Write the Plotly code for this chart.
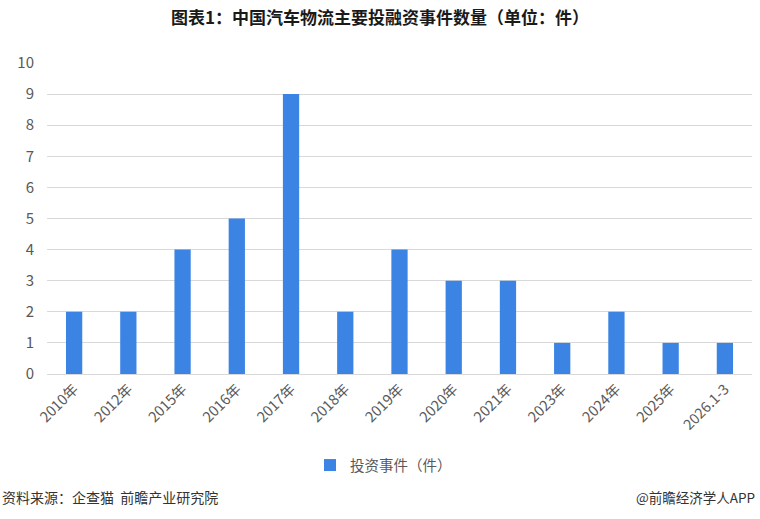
import plotly.graph_objects as go

categories = ["2010年", "2012年", "2015年", "2016年", "2017年", "2018年", "2019年",
              "2020年", "2021年", "2023年", "2024年", "2025年", "2026.1-3"]
values = [2, 2, 4, 5, 9, 2, 4, 3, 3, 1, 2, 1, 1]
series_name = "投资事件（件）"
title_text = "图表1：中国汽车物流主要投融资事件数量（单位：件）"
source_text = "资料来源：企查猫  前瞻产业研究院"
brand_text = "@前瞻经济学人APP"

FONT = "Noto Sans CJK SC, Microsoft YaHei, sans-serif"
GRAY = "#595959"

fig = go.Figure()
fig.add_trace(go.Bar(
    x=categories, y=values, name=series_name,
    marker=dict(color="#3b84e3", line=dict(width=0)),
    showlegend=True,
))

fig.update_layout(
    width=760, height=519,
    margin=dict(l=47, r=8, t=63, b=145),
    paper_bgcolor="white", plot_bgcolor="white",
    bargap=0.7,
    font=dict(family=FONT, color=GRAY, size=14),
    title=dict(text="<b>" + title_text + "</b>", x=0.5, xanchor="center",
               y=0.965, yanchor="middle",
               font=dict(family=FONT, size=17, color="#1a1a1a")),
    xaxis=dict(tickangle=-45, tickfont=dict(size=14.5, color=GRAY),
               showline=True, linecolor="#d9d9d9", linewidth=1,
               ticks="", showgrid=False),
    yaxis=dict(range=[0, 10], dtick=1, tickfont=dict(size=15, color=GRAY),
               showgrid=True, gridcolor="#d9d9d9", gridwidth=1,
               zeroline=False, ticks="", ticklabelstandoff=12),
    legend=dict(orientation="h", x=0.5 - 16/705, xanchor="center", y=-0.293, yanchor="middle",
                font=dict(size=14.5, color=GRAY), itemwidth=30),
    showlegend=True,
)

fig.add_annotation(text=source_text, xref="paper", yref="paper",
                   x=-47/705, xanchor="left", y=(374-497)/311, yanchor="middle",
                   showarrow=False, font=dict(family=FONT, size=14, color="#333333"))
fig.add_annotation(text=brand_text, xref="paper", yref="paper",
                   x=1+5/705, xanchor="right", y=(374-497)/311, yanchor="middle",
                   showarrow=False, font=dict(family=FONT, size=13.5, color="#333333"))

fig.write_html("out.html")
